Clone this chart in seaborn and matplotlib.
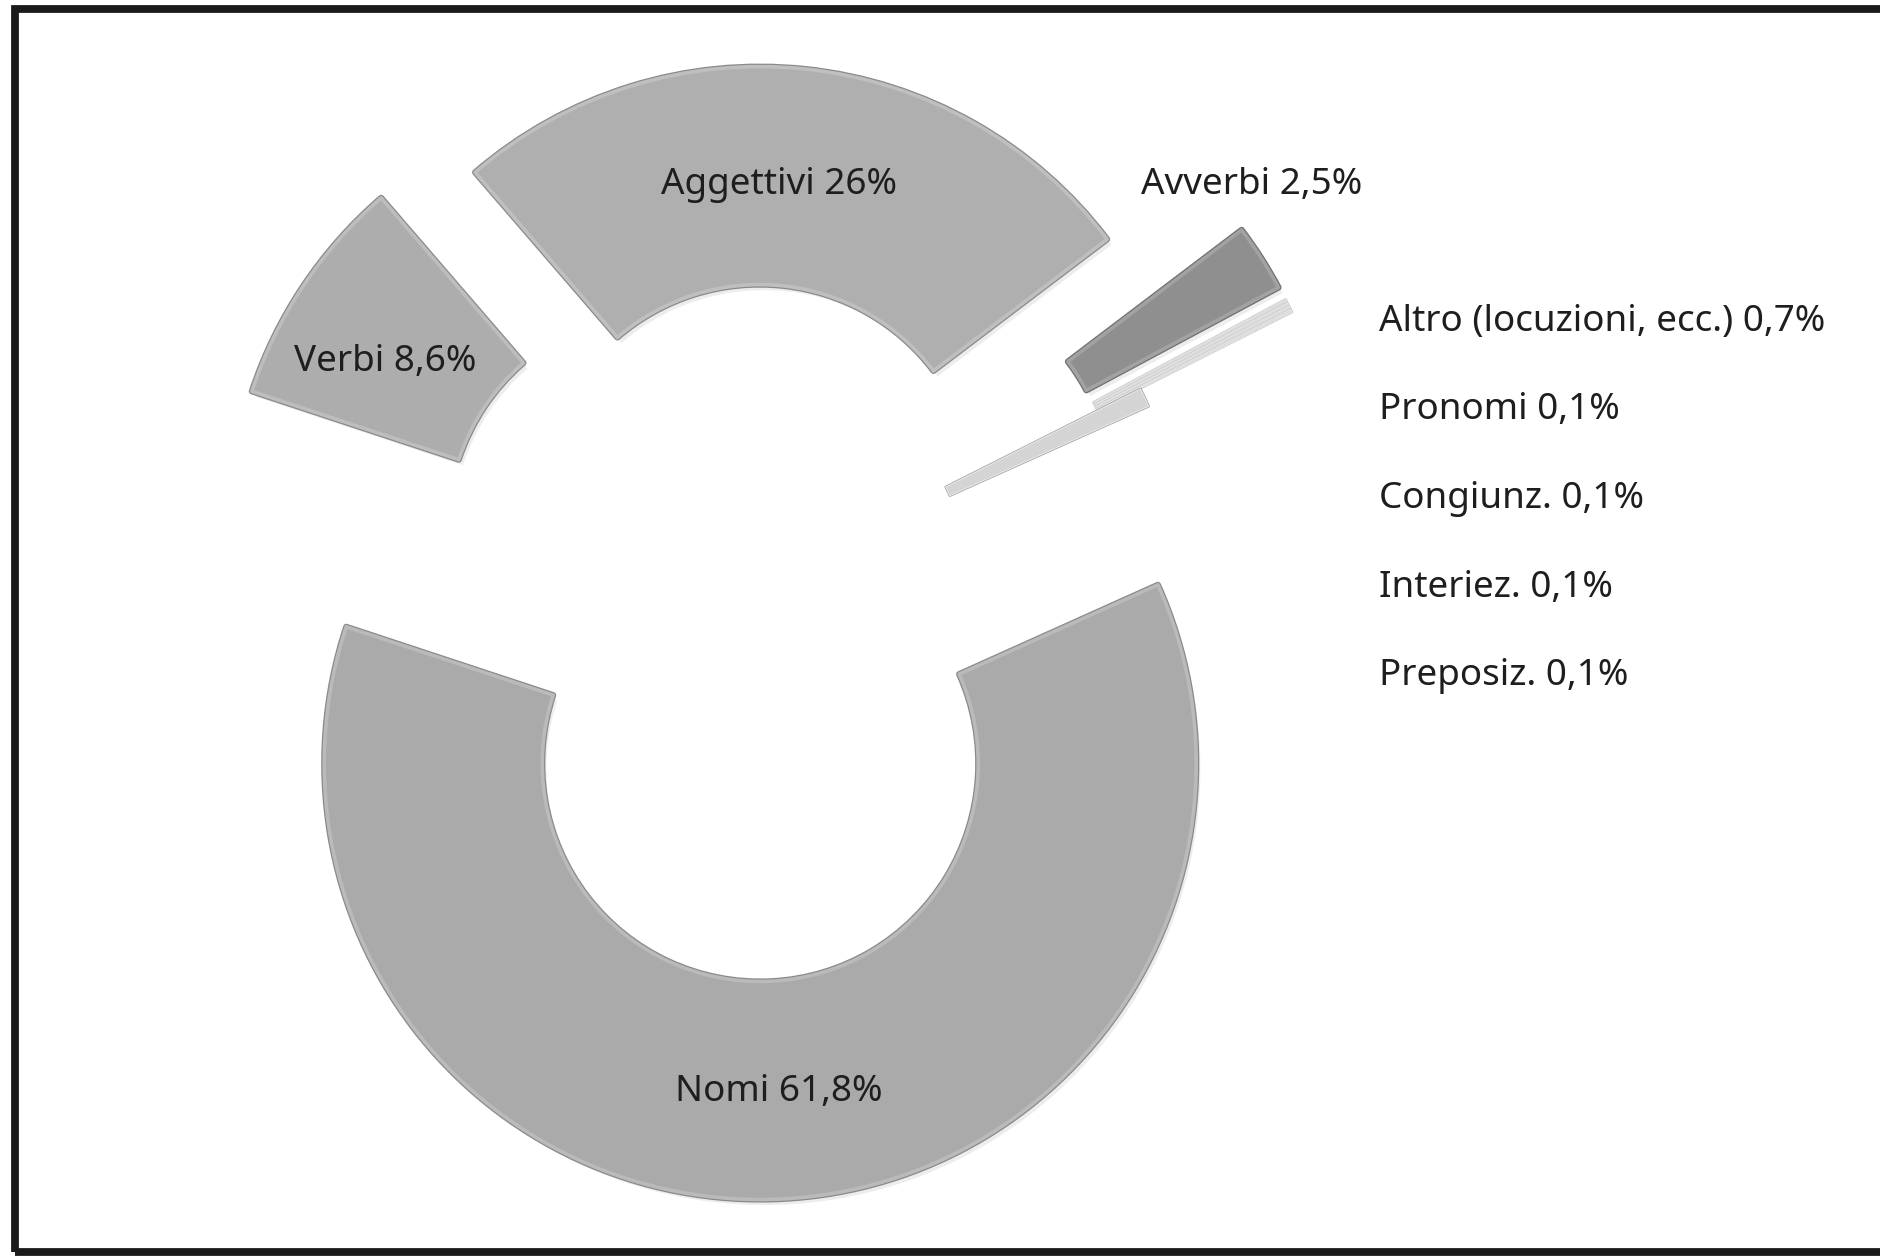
import matplotlib
matplotlib.use("Agg")
import numpy as np
import matplotlib.pyplot as plt
import matplotlib.patheffects as pe
from matplotlib.patches import Rectangle
import seaborn as sns

# ---- data ----
categories = ["Nomi", "Verbi", "Aggettivi", "Avverbi",
              "Pronomi", "Congiunz.", "Interiez.", "Preposiz.",
              "Altro (locuzioni, ecc.)"]
values = [61.8, 8.6, 26.0, 2.5, 0.1, 0.1, 0.1, 0.1, 0.7]
value_labels = ["61,8%", "8,6%", "26%", "2,5%",
                "0,1%", "0,1%", "0,1%", "0,1%", "0,7%"]
list_order = ["Altro (locuzioni, ecc.)", "Pronomi", "Congiunz.",
              "Interiez.", "Preposiz."]

# ---- style ----
explode_frac = [0.41, 0.235, 0.19, 0.39, 0.39, 0.39, 0.39, 0.39, 0.0]
colors = ["#aaaaaa", "#adadad", "#afafaf", "#8f8f8f",
          "#dcdcdc", "#dcdcdc", "#dcdcdc", "#dcdcdc", "#d4d4d4"]
bevel = ["#bababa", "#bdbdbd", "#bfbfbf", "#a2a2a2",
         "#e4e4e4", "#e4e4e4", "#e4e4e4", "#e4e4e4", "#e8e8e8"]
outline = ["#8a8a8a", "#8a8a8a", "#8a8a8a", "#707070",
           "#c8c8c8", "#c8c8c8", "#c8c8c8", "#c8c8c8", "#9a9a9a"]

# label placement (pixel coords, y measured from top)
inner_label_pos = {"Aggettivi": (779, 185), "Verbi": (385, 362),
                   "Nomi": (779, 1092), "Avverbi": (1252, 185)}
list_x, list_y0, list_dy = 1379, 322, 88.5

sns.set_theme(style="white")
plt.rcParams['font.family'] = ['Noto Sans', 'DejaVu Sans']

W, H = 1880, 1256
fig = plt.figure(figsize=(W / 100, H / 100), dpi=100)
fig.patch.set_facecolor("white")
ax = fig.add_axes([0, 0, 1, 1])

R = 436
CENTER = (751, H - 585)
wedges, _ = ax.pie(values,
                   explode=[e * R for e in explode_frac],
                   colors=colors, startangle=24.2, counterclock=False,
                   center=CENTER, radius=R,
                   wedgeprops=dict(width=218, linewidth=2.6, joinstyle="round"))
for k, w in enumerate(wedges):
    small = values[k] < 1
    w.set_edgecolor(bevel[k])
    if small:
        w.set_linewidth(0.8)
        w.set_path_effects([pe.Stroke(linewidth=1.8, foreground=outline[k]), pe.Normal()])
    else:
        w.set_path_effects([
            pe.SimplePatchShadow(offset=(3, -4), shadow_rgbFace="#000000", alpha=0.07),
            pe.Stroke(linewidth=4.4, foreground=outline[k]),
            pe.Normal()])

ax.set_xlim(0, W)
ax.set_ylim(0, H)
ax.set_aspect("equal")
ax.axis("off")

txt_kw = dict(fontsize=26.5, color="#1e1e1e")

for name, (x, y) in inner_label_pos.items():
    i = categories.index(name)
    ax.text(x, H - y, f"{name} {value_labels[i]}", ha="center", va="center", **txt_kw)

for k, name in enumerate(list_order):
    i = categories.index(name)
    ax.text(list_x, H - (list_y0 + k * list_dy), f"{name} {value_labels[i]}",
            ha="left", va="center", **txt_kw)

# outer frame
frame = Rectangle((15 / W, 4 / H), (1890 - 15) / W, (1247.5 - 4) / H,
                  transform=fig.transFigure, fill=False,
                  edgecolor="#1a1a1a", linewidth=5.6, clip_on=False)
fig.patches.append(frame)

fig.savefig("out.png", dpi=100)
